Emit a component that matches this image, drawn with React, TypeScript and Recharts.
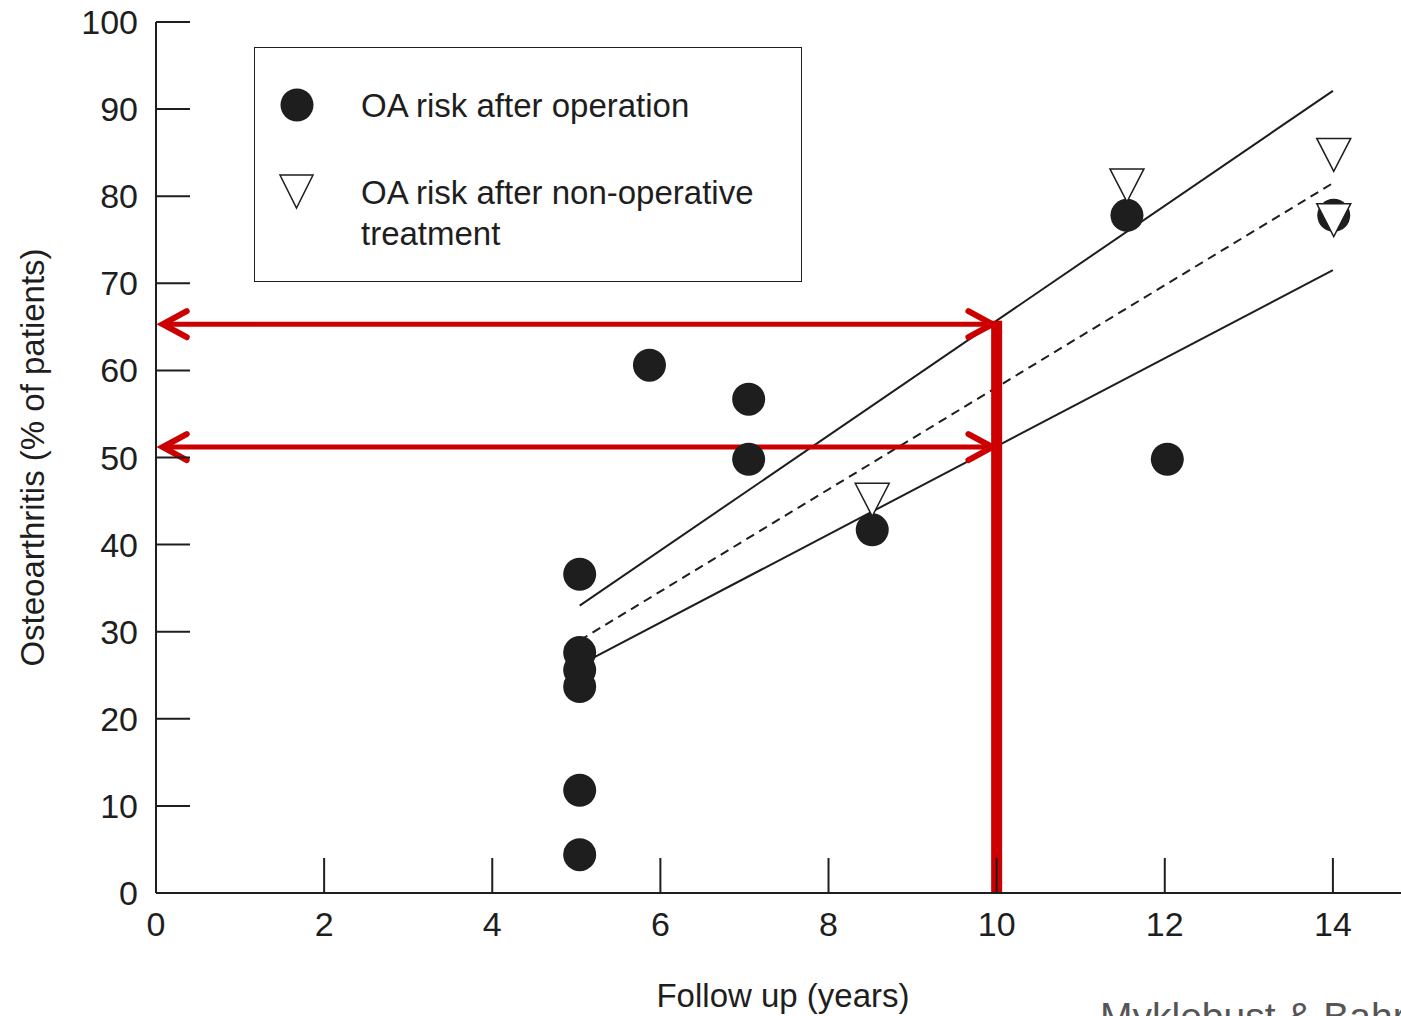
import {
  ComposedChart,
  Legend,
  ReferenceLine,
  Scatter,
  XAxis,
  YAxis,
} from "recharts";

// follow-up (years) and OA risk (% of patients)
const opYears = [5.04, 5.04, 5.04, 5.04, 5.04, 5.04, 5.87, 7.05, 7.05, 8.52, 11.55, 12.03, 14.01];
const opRisk = [36.6, 27.6, 25.6, 23.7, 11.8, 4.4, 60.6, 56.7, 49.8, 41.7, 77.8, 49.8, 77.8];
const nonOpYears = [8.52, 11.55, 14.01, 14.01];
const nonOpRisk = [45.2, 81.3, 84.8, 77.3];

const seriesNames = ["OA risk after operation", "OA risk after non-operative treatment"];

// regression fits: [x1, y1, x2, y2]
const upperFit = [5.04, 33, 14, 92.1];
const meanFit = [5.04, 29, 14, 81.5];
const lowerFit = [5.04, 26.2, 14, 71.5];

// highlighted reading at 10 years
const readYear = 10;
const readHigh = 65.3;
const readLow = 51.2;
const arrowStart = 0.08;

const xTicks = [0, 2, 4, 6, 8, 10, 12, 14];
const yTicks = [0, 10, 20, 30, 40, 50, 60, 70, 80, 90, 100];

const opData = opYears.map((x, i) => ({ x, y: opRisk[i] }));
const nonOpData = nonOpYears.map((x, i) => ({ x, y: nonOpRisk[i] }));

const INK = "#1e1e1e";
const RED = "#cc0000";
const FONT = "'Liberation Sans', Arial, sans-serif";
const PLOT_LEFT = 156;
const PLOT_BOTTOM = 893;

const seg = (f: number[]) => [
  { x: f[0], y: f[1] },
  { x: f[2], y: f[3] },
];

const Dot = ({ cx, cy }: any) => <circle cx={cx} cy={cy} r={16.5} fill={INK} />;

const Tri = ({ cx, cy }: any) => (
  <path
    d={`M${cx - 17},${cy - 16} L${cx + 17},${cy - 16} L${cx},${cy + 17} Z`}
    fill="#fff"
    stroke={INK}
    strokeWidth={1.5}
  />
);

function YTick({ y, payload }: any) {
  return (
    <g>
      <line x1={PLOT_LEFT} x2={PLOT_LEFT + 34} y1={y} y2={y} stroke={INK} strokeWidth={2} />
      <text x={138} y={y} textAnchor="end" dominantBaseline="central" fontSize={34} fill={INK} fontFamily={FONT}>
        {payload.value}
      </text>
    </g>
  );
}

function XTick({ x, payload }: any) {
  return (
    <g>
      <line x1={x} x2={x} y1={PLOT_BOTTOM} y2={PLOT_BOTTOM - 35} stroke={INK} strokeWidth={2} />
      <text x={x} y={PLOT_BOTTOM + 31} textAnchor="middle" dominantBaseline="central" fontSize={34} fill={INK} fontFamily={FONT}>
        {payload.value}
      </text>
    </g>
  );
}

function Arrow({ x1, y1, x2 }: any) {
  const l = Math.min(x1, x2);
  const r = Math.max(x1, x2);
  const y = y1;
  return (
    <g stroke={RED} strokeWidth={5} strokeLinecap="round" fill="none">
      <line x1={l} x2={r} y1={y} y2={y} />
      <polyline points={`${l + 24},${y - 13} ${l},${y} ${l + 24},${y + 13}`} strokeWidth={6} />
      <polyline points={`${r - 24},${y - 13} ${r},${y} ${r - 24},${y + 13}`} strokeWidth={6} />
    </g>
  );
}

function LegendBox() {
  const [a, b] = seriesNames;
  const bWords = b.split(" ");
  return (
    <div style={{ width: 548, height: 235, border: `1.5px solid ${INK}`, boxSizing: "border-box", background: "#fff" }}>
      <svg width={545} height={232} style={{ display: "block" }}>
        <circle cx={42} cy={57} r={16.5} fill={INK} />
        <text x={106} y={57} dominantBaseline="central" fontSize={33} fill={INK} fontFamily={FONT}>
          {a}
        </text>
        <path d="M25,127 L58,127 L41.5,160 Z" fill="#fff" stroke={INK} strokeWidth={1.5} />
        <text x={106} y={144} dominantBaseline="central" fontSize={33} fill={INK} fontFamily={FONT}>
          {bWords.slice(0, -1).join(" ")}
        </text>
        <text x={106} y={185} dominantBaseline="central" fontSize={33} fill={INK} fontFamily={FONT}>
          {bWords[bWords.length - 1]}
        </text>
      </svg>
    </div>
  );
}

export default function App() {
  return (
    <div style={{ position: "absolute", left: 0, top: 0, width: 1401, height: 1016, overflow: "hidden", background: "#fff" }}>
      <ComposedChart width={1401} height={1016} margin={{ top: 22, right: 0, bottom: 0, left: 0 }}>
        <XAxis
          type="number"
          dataKey="x"
          domain={[0, 14.81]}
          ticks={xTicks}
          allowDataOverflow
          height={123}
          stroke={INK}
          strokeWidth={2}
          tickLine={false}
          tick={<XTick />}
          label={({ viewBox }: any) => (
            <g>
              <text x={783} y={viewBox.y + 102} textAnchor="middle" dominantBaseline="central" fontSize={33} fill={INK} fontFamily={FONT}>
                Follow up (years)
              </text>
              <text x={1100} y={1030} fontSize={39} fill="#555" fontFamily={FONT}>
                Myklebust &amp; Bahr
              </text>
            </g>
          )}
        />
        <YAxis
          type="number"
          dataKey="y"
          domain={[0, 100]}
          ticks={yTicks}
          width={156}
          stroke={INK}
          strokeWidth={2}
          tickLine={false}
          tick={<YTick />}
          label={({ viewBox }: any) => {
            const cy = viewBox.y + viewBox.height / 2;
            return (
              <text x={32} y={cy} transform={`rotate(-90 32 ${cy})`} textAnchor="middle" dominantBaseline="central" fontSize={33} fill={INK} fontFamily={FONT}>
                Osteoarthritis (% of patients)
              </text>
            );
          }}
        />
        <ReferenceLine segment={seg(upperFit)} stroke={INK} strokeWidth={2} ifOverflow="visible" />
        <ReferenceLine segment={seg(meanFit)} stroke={INK} strokeWidth={2} strokeDasharray="9 6" ifOverflow="visible" />
        <ReferenceLine segment={seg(lowerFit)} stroke={INK} strokeWidth={2} ifOverflow="visible" />
        <Scatter name={seriesNames[0]} data={opData} fill={INK} shape={<Dot />} isAnimationActive={false} />
        <Scatter name={seriesNames[1]} data={nonOpData} fill="#fff" shape={<Tri />} isAnimationActive={false} />
        <ReferenceLine
          segment={[{ x: arrowStart, y: readHigh }, { x: readYear - 0.05, y: readHigh }]}
          shape={<Arrow />}
          ifOverflow="visible"
        />
        <ReferenceLine
          segment={[{ x: arrowStart, y: readLow }, { x: readYear - 0.05, y: readLow }]}
          shape={<Arrow />}
          ifOverflow="visible"
        />
        <ReferenceLine
          segment={[{ x: readYear, y: 0 }, { x: readYear, y: readHigh + 0.4 }]}
          stroke={RED}
          strokeWidth={11}
          ifOverflow="visible"
        />
        <Legend
          layout="vertical"
          align="center"
          verticalAlign="middle"
          wrapperStyle={{ left: 254, top: 47, width: 548, height: 235 }}
          content={<LegendBox />}
        />
      </ComposedChart>
    </div>
  );
}
